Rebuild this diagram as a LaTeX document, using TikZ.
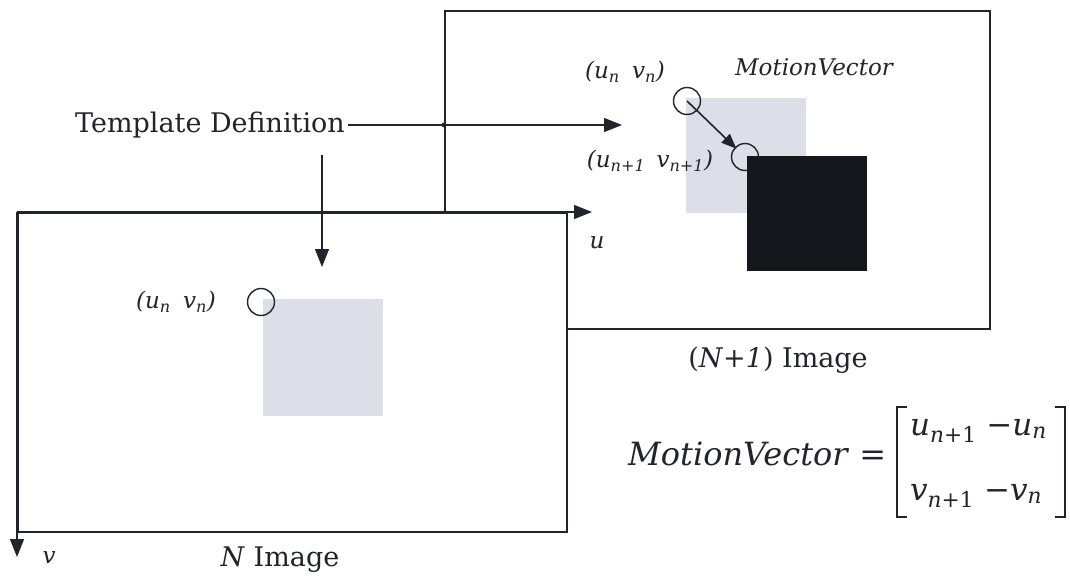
\documentclass[tikz,border=0pt]{standalone}
\usepackage{fontspec}
\setmainfont{DejaVu Serif}
\usetikzlibrary{arrows.meta}
\definecolor{ink}{HTML}{23232E}
\definecolor{tgray}{HTML}{DEDEE8}
\definecolor{dark}{HTML}{16161D}
\tikzset{
  imgbox/.style={draw=ink, line width=1.8pt, fill=white, rectangle, inner sep=0pt, anchor=north west},
  arr/.style={draw=ink, line width=1.4pt, -{Triangle[length=18pt,width=14pt]}},
  smallarr/.style={draw=ink, line width=1.6pt, -{Triangle[length=15pt,width=12pt]}},
  ring/.style={circle, draw=ink, line width=1.4pt, minimum size=27pt, inner sep=0pt},
  patch/.style={rectangle, inner sep=0pt, anchor=north west},
  big/.style={font=\fontsize{27}{30}\selectfont, text=ink, inner sep=0pt},
  small/.style={font=\fontsize{23}{26}\selectfont\itshape, text=ink, inner sep=0pt},
  formula/.style={font=\fontsize{32}{38}\selectfont, text=ink, inner sep=0pt, anchor=base west},
  entry/.style={font=\fontsize{31}{36}\selectfont, text=ink, inner sep=0pt, anchor=base west},
  bracket/.style={draw=ink, line width=1.6pt},
}
\begin{document}
\begin{tikzpicture}[x=1pt,y=-1pt]
\useasboundingbox (0,0) rectangle (1070,580);

% (N+1) image
\node[imgbox, minimum width=545pt, minimum height=318pt] (back) at (444,10) {};
\node[patch, fill=tgray, minimum width=120pt, minimum height=115pt] (g2) at (686,98) {};
\node[ring] (c1) at (687,101) {};
\node[ring] (c2) at (745,157) {};
\draw[smallarr, shorten >=12pt] (c1.center) -- (c2.center);
\node[patch, fill=dark, minimum width=120pt, minimum height=115pt] (b2) at (747,156) {};
\node[small] (l1) at (625,72) {(u\textsubscript{n}\hspace{5pt} v\textsubscript{n})};
\node[small] (mvl) at (814,67) {MotionVector};
\node[small] (l2) at (650,161) {(u\textsubscript{n+1}\hspace{4pt} v\textsubscript{n+1})};
\node[big] (nn1) at (778,360) {(\textit{N}+\textit{1}) Image};

% N image
\node[imgbox, minimum width=549pt, minimum height=319pt] (front) at (17,212) {};
\node[patch, fill=tgray, minimum width=120pt, minimum height=117pt] (g1) at (263,299) {};
\node[ring] (c0) at (261,302) {};
\node[small] (l0) at (176,302) {(u\textsubscript{n}\hspace{5pt} v\textsubscript{n})};
\node[big] (nn) at (280,560) {\textit{N} Image};

% axes
\coordinate (uend) at (592,212);
\coordinate (vend) at (17,557);
\draw[arr] (front.north west) -- (uend);
\draw[arr] (front.north west) -- (vend);
\node[small] (ul) at (597,243) {u};
\node[small] (vl) at (49,558) {v};

% template definition
\node[big] (td) at (210,125) {Template Definition};
\coordinate (tdend) at (622,125);
\coordinate (tdtop) at (322,155);
\coordinate (tdbot) at (322,267);
\draw[arr] (td.east) ++(3,0) -- (tdend);
\fill[ink] (td.east -| back.west) circle (2.5pt);
\draw[arr] (tdtop) -- (tdbot);

% formula
\node[formula] (mv) at (628,465) {\textit{MotionVector} =};
\coordinate (lbt) at (897,407);
\coordinate (lbb) at (897,517);
\coordinate (rbt) at (1065,407);
\coordinate (rbb) at (1065,517);
\draw[bracket] ([xshift=10pt]lbt) -- (lbt) -- (lbb) -- ([xshift=10pt]lbb);
\draw[bracket] ([xshift=-10pt]rbt) -- (rbt) -- (rbb) -- ([xshift=-10pt]rbb);
\node[entry] (r1) at (910,435) {\textit{u}\textsubscript{\textit{n}+1} −\textit{u}\textsubscript{\textit{n}}};
\node[entry] (r2) at (910,500) {\textit{v}\textsubscript{\textit{n}+1} −\textit{v}\textsubscript{\textit{n}}};
\end{tikzpicture}
\end{document}
